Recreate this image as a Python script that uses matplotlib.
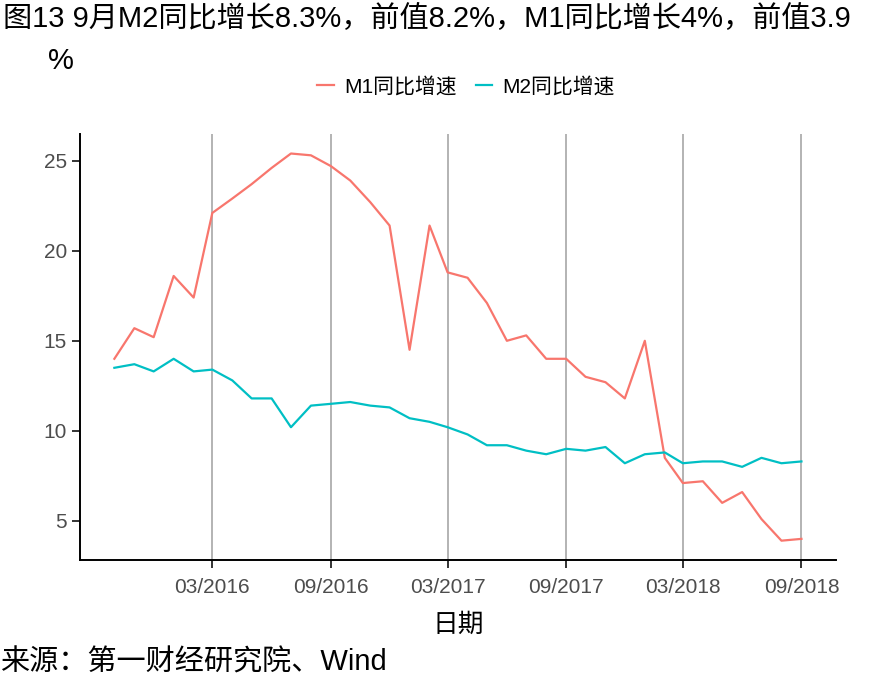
import numpy as np
import pandas as pd
import matplotlib
matplotlib.use("Agg")
import matplotlib.pyplot as plt
import matplotlib.dates as mdates

plt.rcParams['font.family'] = ['Liberation Sans', 'Noto Sans CJK SC', 'DejaVu Sans']

months = pd.date_range("2015-10-01", "2018-09-01", freq="MS")
m1 = [14.0, 15.7, 15.2, 18.6, 17.4, 22.1, 22.9, 23.7, 24.6, 25.4, 25.3, 24.7,
      23.9, 22.7, 21.4, 14.5, 21.4, 18.8, 18.5, 17.1, 15.0, 15.3, 14.0, 14.0,
      13.0, 12.7, 11.8, 15.0, 8.5, 7.1, 7.2, 6.0, 6.6, 5.1, 3.9, 4.0]
m2 = [13.5, 13.7, 13.3, 14.0, 13.3, 13.4, 12.8, 11.8, 11.8, 10.2, 11.4, 11.5,
      11.6, 11.4, 11.3, 10.7, 10.5, 10.2, 9.8, 9.2, 9.2, 8.9, 8.7, 9.0,
      8.9, 9.1, 8.2, 8.7, 8.8, 8.2, 8.3, 8.3, 8.0, 8.5, 8.2, 8.3]
xticks = pd.to_datetime(["2016-03-01", "2016-09-01", "2017-03-01",
                         "2017-09-01", "2018-03-01", "2018-09-01"])
yticks = [5, 10, 15, 20, 25]

fig = plt.figure(figsize=(8.85, 6.88), dpi=100)
ax = fig.add_axes([0.0904, 0.186, 0.854, 0.619])

ax.plot(months, m1, color='#F8766D', linewidth=1.6, label='M1同比增速')
ax.plot(months, m2, color='#00BFC4', linewidth=1.6, label='M2同比增速')

# ggplot-like 5% expansion
span = months[-1] - months[0]
ax.set_xlim(months[0] - span * 0.05, months[-1] + span * 0.05)
lo, hi = min(min(m1), min(m2)), max(max(m1), max(m2))
ax.set_ylim(lo - (hi - lo) * 0.05, hi + (hi - lo) * 0.05)

ax.set_xticks(xticks)
ax.xaxis.set_major_formatter(mdates.DateFormatter('%m/%Y'))
ax.set_yticks(yticks)
ax.grid(axis='x', color='#B3B3B3', linewidth=1.4)
ax.set_axisbelow(True)
for s in ['top', 'right']:
    ax.spines[s].set_visible(False)
for s in ['left', 'bottom']:
    ax.spines[s].set_linewidth(1.4)
ax.tick_params(axis='both', colors='#333333', labelcolor='#4D4D4D',
               labelsize=15, length=5.5, width=1.4, pad=4)
ax.tick_params(axis='x', pad=7.5)
ax.set_xlabel('日期', fontsize=18.5, labelpad=11)

ax.legend(loc='lower center', bbox_to_anchor=(0.511, 1.045), ncol=2, frameon=False,
          fontsize=15, handlelength=0.8, handletextpad=0.5, columnspacing=0.9)

fig.text(0.003, 0.993, '图13 9月M2同比增长8.3%，前值8.2%，M1同比增长4%，前值3.9',
         fontsize=21, va='top', ha='left')
fig.text(0.054, 0.932, '%', fontsize=21, va='top', ha='left')
fig.text(0.0, 0.016, '来源：第一财经研究院、Wind', fontsize=21, va='bottom', ha='left')

fig.savefig('out.png', dpi=100)
